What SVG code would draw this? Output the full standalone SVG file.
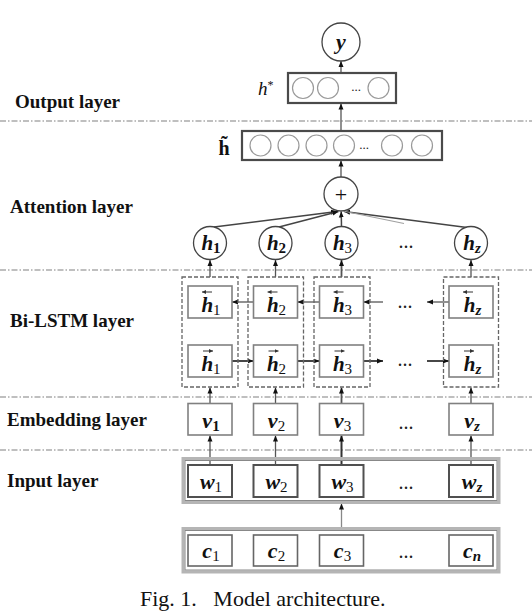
<svg xmlns="http://www.w3.org/2000/svg" width="532" height="612" viewBox="0 0 532 612">
<defs>
<marker id="ah" viewBox="0 0 6 6" refX="6" refY="3" markerWidth="6" markerHeight="6" markerUnits="userSpaceOnUse" orient="auto"><path d="M0,0.5 L6,3 L0,5.5 z" fill="#111"/></marker>
<marker id="acc" viewBox="0 0 4 4" refX="4" refY="2" markerWidth="4" markerHeight="4" markerUnits="userSpaceOnUse" orient="auto"><path d="M0,0 L4,2 L0,4 z" fill="#333"/></marker>
</defs>
<style>
.lbl{font-family:"Liberation Serif","Times New Roman",serif;font-weight:bold;font-size:19px;fill:#111}
.var{font-family:"Liberation Serif","Times New Roman",serif;font-style:italic;font-weight:bold;font-size:22px;fill:#111}
.hv{font-size:21px}
.sub{font-style:normal;font-weight:normal;font-size:15px}
.subi{font-style:italic;font-weight:bold;font-size:15px}
.dots{font-family:"Liberation Serif",serif;font-size:20px;fill:#222}
.sep{stroke:#808080;stroke-width:1.2;stroke-dasharray:6 2 1.5 2;fill:none}
.node{fill:#fff;stroke:#444;stroke-width:1.3}
.sc{fill:#fff;stroke:#9a9a9a;stroke-width:1.2}
.vec{fill:#fff;stroke:#4a4a4a;stroke-width:2.2}
.cell{fill:#fff;stroke:#808080;stroke-width:1.6}
.wbox{fill:#fff;stroke:#505050;stroke-width:2}
.dash{fill:none;stroke:#666;stroke-width:1.3;stroke-dasharray:4 2}
.outer{fill:none;stroke:#b5b5b5;stroke-width:3}
.outerin{fill:none;stroke:#888;stroke-width:1}
.con{stroke:#555;stroke-width:1.3;fill:none;marker-end:url(#ah)}
.att{stroke:#444;stroke-width:1.5;fill:none;marker-end:url(#ah)}
.ac{stroke:#333;stroke-width:1;fill:none;marker-end:url(#acc)}
.cap{font-family:"Liberation Serif","Times New Roman",serif;font-size:22px;fill:#111}
</style>

<g id="separators">
<line class="sep" x1="0" y1="121" x2="532" y2="121"/>
<line class="sep" x1="0" y1="270" x2="532" y2="270"/>
<line class="sep" x1="0" y1="397" x2="532" y2="397"/>
<line class="sep" x1="0" y1="450" x2="532" y2="450"/>
</g>

<g id="layer-labels">
<text class="lbl" x="15" y="108">Output layer</text>
<text class="lbl" x="10" y="213">Attention layer</text>
<text class="lbl" x="10" y="327">Bi-LSTM layer</text>
<text class="lbl" x="7" y="426">Embedding layer</text>
<text class="lbl" x="7" y="487">Input layer</text>
</g>

<g id="connectors">
<line class="con" x1="341" y1="73" x2="341" y2="61"/>
<line class="con" x1="341" y1="131" x2="341" y2="103.5"/>
<line class="con" x1="341" y1="177" x2="341" y2="160.5"/>
<line class="att" x1="214" y1="227" x2="337" y2="211.5"/>
<line class="att" x1="279" y1="227" x2="338.5" y2="211.5"/>
<line class="att" x1="341.5" y1="226.5" x2="341.2" y2="211.5"/>
<line class="att" x1="467" y1="227.5" x2="344" y2="211.5"/>
<line x1="343" y1="211" x2="404" y2="223.5" stroke="#a0a0a0" stroke-width="1.2"/>
<line class="con" x1="210" y1="277" x2="210" y2="260"/>
<line class="con" x1="275.5" y1="277" x2="275.5" y2="260"/>
<line class="con" x1="341.5" y1="277" x2="341.5" y2="260" style="stroke-width:1.8"/>
<line class="con" x1="471" y1="277" x2="471" y2="260"/>
<line class="con" x1="253.5" y1="302" x2="232" y2="302"/>
<line class="con" x1="319.5" y1="302" x2="297.5" y2="302"/>
<line class="con" x1="383" y1="302" x2="363.5" y2="302"/>
<line class="con" x1="449" y1="302" x2="427" y2="302"/>
<line class="con" x1="232" y1="361" x2="253.5" y2="361" style="stroke:#333;stroke-width:1.8"/>
<line class="con" x1="297.5" y1="361" x2="319.5" y2="361" style="stroke:#333;stroke-width:1.8"/>
<line class="con" x1="363.5" y1="361" x2="383" y2="361" style="stroke:#333;stroke-width:1.8"/>
<line class="con" x1="427" y1="361" x2="449" y2="361" style="stroke:#333;stroke-width:1.8"/>
<line class="con" x1="210" y1="403.5" x2="210" y2="387.5"/>
<line class="con" x1="275.5" y1="403.5" x2="275.5" y2="387.5"/>
<line class="con" x1="341.5" y1="403.5" x2="341.5" y2="387.5" style="stroke-width:1.8"/>
<line class="con" x1="471" y1="403.5" x2="471" y2="387.5"/>
<line class="con" x1="210" y1="465" x2="210" y2="435.5"/>
<line class="con" x1="275.5" y1="465" x2="275.5" y2="435.5"/>
<line class="con" x1="341.5" y1="465" x2="341.5" y2="435.5" style="stroke:#333;stroke-width:2"/>
<line class="con" x1="471" y1="465" x2="471" y2="435.5"/>
<line class="con" x1="341.5" y1="528" x2="341.5" y2="503.5" style="stroke:#888"/>
</g>

<g id="node-y">
<circle class="node" cx="341" cy="42" r="19"/>
<text class="var" x="341" y="49" text-anchor="middle">y</text>
</g>

<g id="node-hstar">
<rect class="vec" x="288" y="73" width="108" height="30"/>
<circle class="sc" cx="303" cy="88" r="10.5"/>
<circle class="sc" cx="328" cy="88" r="10.5"/>
<text class="dots" x="356" y="91" text-anchor="middle" style="font-size:13px">...</text>
<circle class="sc" cx="378.5" cy="88" r="10.5"/>
<text x="258" y="95" style="font-family:'Liberation Serif',serif;font-style:italic;font-size:19px;fill:#111">h<tspan dy="-6" style="font-size:12px;font-style:normal">*</tspan></text>
</g>

<g id="node-htilde">
<rect class="vec" x="242" y="131" width="200" height="29"/>
<circle class="sc" cx="260.5" cy="145.5" r="10.5"/>
<circle class="sc" cx="288.5" cy="145.5" r="10.5"/>
<circle class="sc" cx="316.5" cy="145.5" r="10.5"/>
<circle class="sc" cx="344" cy="145.5" r="10.5"/>
<text class="dots" x="364" y="148.5" text-anchor="middle" style="font-size:13px">...</text>
<circle class="sc" cx="392" cy="145.5" r="10.5"/>
<circle class="sc" cx="422" cy="145.5" r="10.5"/>
<text x="224" y="155" text-anchor="middle" style="font-family:'Liberation Serif',serif;font-weight:bold;font-size:20px;fill:#111">h̃</text>
</g>

<g id="node-plus">
<circle class="node" cx="341" cy="194" r="17"/>
<text x="341" y="201.5" text-anchor="middle" style="font-family:'Liberation Serif',serif;font-size:22px;fill:#111">+</text>
</g>

<g id="att-h1">
<circle class="node" cx="210" cy="243" r="16.5"/>
<text class="var hv" x="211" y="250" text-anchor="middle">h<tspan class="sub" dy="3" style="font-weight:bold">1</tspan></text>
</g>
<g id="att-h2">
<circle class="node" cx="275.5" cy="243" r="16.5"/>
<text class="var hv" x="276.5" y="250" text-anchor="middle">h<tspan class="sub" dy="3" style="font-weight:bold">2</tspan></text>
</g>
<g id="att-h3">
<circle class="node" cx="341.5" cy="243" r="16.5"/>
<text class="var hv" x="342.5" y="250" text-anchor="middle">h<tspan class="sub" dy="3">3</tspan></text>
</g>
<text class="dots" x="406" y="248" text-anchor="middle">...</text>
<g id="att-hz">
<circle class="node" cx="471" cy="243" r="16.5"/>
<text class="var hv" x="472" y="250" text-anchor="middle">h<tspan class="subi" dy="3">z</tspan></text>
</g>

<g id="bilstm-1">
<rect class="dash" x="182" y="277" width="56" height="110"/>
<rect class="cell" x="188" y="286" width="44" height="32"/>
<line class="ac" x1="212" y1="292" x2="202" y2="292"/>
<text class="var hv" x="211" y="312" text-anchor="middle">h<tspan class="sub" dy="3">1</tspan></text>
<rect class="cell" x="188" y="345" width="44" height="32"/>
<line class="ac" x1="203" y1="351" x2="213" y2="351"/>
<text class="var hv" x="211" y="371" text-anchor="middle">h<tspan class="sub" dy="3">1</tspan></text>
</g>
<g id="bilstm-2">
<rect class="dash" x="248" y="277" width="55.5" height="110"/>
<rect class="cell" x="253.5" y="286" width="44" height="32"/>
<line class="ac" x1="277.5" y1="292" x2="267.5" y2="292"/>
<text class="var hv" x="276.5" y="312" text-anchor="middle">h<tspan class="sub" dy="3">2</tspan></text>
<rect class="cell" x="253.5" y="345" width="44" height="32"/>
<line class="ac" x1="268.5" y1="351" x2="278.5" y2="351"/>
<text class="var hv" x="276.5" y="371" text-anchor="middle">h<tspan class="sub" dy="3">2</tspan></text>
</g>
<g id="bilstm-3">
<rect class="dash" x="314" y="277" width="56" height="110"/>
<rect class="cell" x="319.5" y="286" width="44" height="32"/>
<line class="ac" x1="343.5" y1="292" x2="333.5" y2="292"/>
<text class="var hv" x="342.5" y="312" text-anchor="middle">h<tspan class="sub" dy="3">3</tspan></text>
<rect class="cell" x="319.5" y="345" width="44" height="32"/>
<line class="ac" x1="334.5" y1="351" x2="344.5" y2="351"/>
<text class="var hv" x="342.5" y="371" text-anchor="middle">h<tspan class="sub" dy="3">3</tspan></text>
</g>
<text class="dots" x="405" y="308" text-anchor="middle">...</text>
<text class="dots" x="405" y="366" text-anchor="middle">...</text>
<g id="bilstm-z">
<rect class="dash" x="443.5" y="277" width="55" height="110"/>
<rect class="cell" x="449" y="286" width="44" height="32"/>
<line class="ac" x1="473" y1="292" x2="463" y2="292"/>
<text class="var hv" x="472.5" y="312" text-anchor="middle">h<tspan class="subi" dy="3">z</tspan></text>
<rect class="cell" x="449" y="345" width="44" height="32"/>
<line class="ac" x1="464" y1="351" x2="474" y2="351"/>
<text class="var hv" x="472.5" y="371" text-anchor="middle">h<tspan class="subi" dy="3">z</tspan></text>
</g>

<g id="emb-v1">
<rect class="cell" x="188" y="403.5" width="44" height="31.5"/>
<text class="var" x="211" y="428" text-anchor="middle">v<tspan class="sub" dy="3" style="font-weight:bold">1</tspan></text>
</g>
<g id="emb-v2">
<rect class="cell" x="253.5" y="403.5" width="44" height="31.5"/>
<text class="var" x="276.5" y="428" text-anchor="middle">v<tspan class="sub" dy="3">2</tspan></text>
</g>
<g id="emb-v3">
<rect class="cell" x="319.5" y="403.5" width="44" height="31.5"/>
<text class="var" x="342.5" y="428" text-anchor="middle">v<tspan class="sub" dy="3">3</tspan></text>
</g>
<text class="dots" x="406" y="429" text-anchor="middle">...</text>
<g id="emb-vz">
<rect class="cell" x="449" y="403.5" width="44" height="31.5"/>
<text class="var" x="472" y="428" text-anchor="middle">v<tspan class="subi" dy="3">z</tspan></text>
</g>

<g id="input-layer">
<rect class="outer" x="183" y="458.5" width="316" height="44"/>
<rect class="outerin" x="185" y="460.5" width="312" height="40"/>
<g id="input-w1">
<rect class="wbox" x="188" y="465" width="44" height="32"/>
<text class="var" x="211" y="489" text-anchor="middle">w<tspan class="sub" dy="3">1</tspan></text>
</g>
<g id="input-w2">
<rect class="wbox" x="253.5" y="465" width="44" height="32"/>
<text class="var" x="276.5" y="489" text-anchor="middle">w<tspan class="sub" dy="3">2</tspan></text>
</g>
<g id="input-w3">
<rect class="wbox" x="319.5" y="465" width="44" height="32"/>
<text class="var" x="342.5" y="489" text-anchor="middle">w<tspan class="sub" dy="3">3</tspan></text>
</g>
<text class="dots" x="406" y="489" text-anchor="middle">...</text>
<g id="input-wz">
<rect class="wbox" x="449" y="465" width="44" height="32"/>
<text class="var" x="472" y="489" text-anchor="middle">w<tspan class="subi" dy="3">z</tspan></text>
</g>
</g>

<g id="char-layer">
<rect class="outer" x="183" y="528.5" width="316" height="43.5"/>
<rect class="outerin" x="185" y="530.5" width="312" height="39.5"/>
<g id="char-c1">
<rect class="cell" x="188" y="535" width="44" height="31" style="stroke:#666"/>
<text class="var" x="211" y="558" text-anchor="middle">c<tspan class="sub" dy="3">1</tspan></text>
</g>
<g id="char-c2">
<rect class="cell" x="253.5" y="535" width="44" height="31" style="stroke:#666"/>
<text class="var" x="276.5" y="558" text-anchor="middle">c<tspan class="sub" dy="3">2</tspan></text>
</g>
<g id="char-c3">
<rect class="cell" x="319.5" y="535" width="44" height="31" style="stroke:#666"/>
<text class="var" x="342.5" y="558" text-anchor="middle">c<tspan class="sub" dy="3">3</tspan></text>
</g>
<text class="dots" x="406" y="558" text-anchor="middle">...</text>
<g id="char-cn">
<rect class="cell" x="449" y="535" width="44" height="31" style="stroke:#666"/>
<text class="var" x="472" y="558" text-anchor="middle">c<tspan class="subi" dy="3">n</tspan></text>
</g>
</g>

<text class="cap" x="140" y="606" xml:space="preserve">Fig. 1.   Model architecture.</text>
</svg>
